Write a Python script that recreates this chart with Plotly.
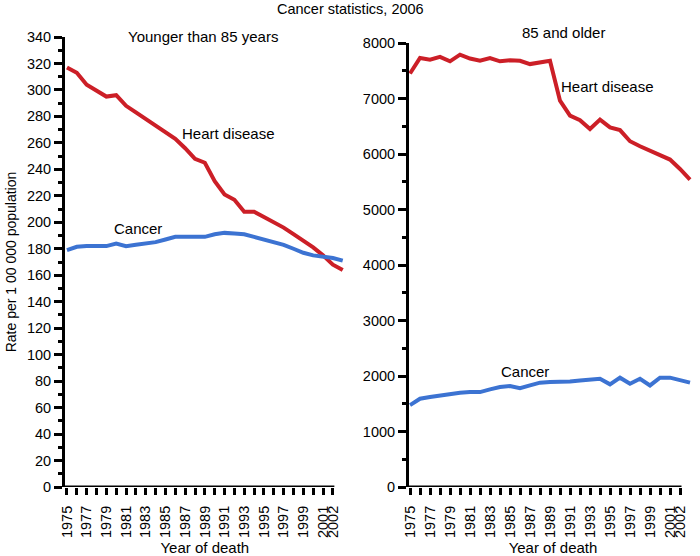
import plotly.graph_objects as go

years = list(range(1975, 2004))

heart_under85 = [317, 313, 304, 299.5, 295, 296, 288, 283, 278, 273, 268, 263, 256, 248, 245,
                 231, 221, 217, 208, 208, 204, 200, 196, 191, 186, 181, 175, 168, 164]
cancer_under85 = [179, 181.5, 182, 182, 182, 184, 182, 183, 184, 185, 187, 189, 189, 189, 189,
                  191, 192, 191.5, 191, 189, 187, 185, 183, 180, 177, 175, 174, 173, 171]

heart_85plus = [7450, 7730, 7700, 7750, 7670, 7790, 7720, 7680, 7730, 7670, 7690, 7680, 7620, 7650, 7680,
                6960, 6690, 6610, 6450, 6620, 6480, 6430, 6230, 6140, 6060, 5990, 5900, 5730, 5540]
cancer_85plus = [1475, 1590, 1620, 1650, 1680, 1700, 1710, 1710, 1760, 1800, 1820, 1780, 1830, 1880, 1890,
                 1890, 1900, 1920, 1930, 1950, 1850, 1970, 1860, 1950, 1830, 1970, 1970, 1930, 1880]

tick_years = list(range(1975, 2003))
tick_text = [str(y) if (y % 2 == 1 or y == 2002) else "" for y in tick_years]

RED = "#cc1f27"
BLUE = "#3c73d2"
FONT = "Liberation Sans, Arial, sans-serif"
TICK_FONT = dict(size=14.5, color="black", family=FONT)

W, H = 700, 556


def px(X):
    return X / W


def py(Y):
    return 1 - Y / H


fig = go.Figure()
fig.add_trace(go.Scatter(x=years, y=heart_under85, mode="lines", line=dict(color=RED, width=4),
                         xaxis="x", yaxis="y", showlegend=False))
fig.add_trace(go.Scatter(x=years, y=cancer_under85, mode="lines", line=dict(color=BLUE, width=4),
                         xaxis="x", yaxis="y", showlegend=False))
fig.add_trace(go.Scatter(x=years, y=heart_85plus, mode="lines", line=dict(color=RED, width=4),
                         xaxis="x2", yaxis="y2", showlegend=False))
fig.add_trace(go.Scatter(x=years, y=cancer_85plus, mode="lines", line=dict(color=BLUE, width=4),
                         xaxis="x2", yaxis="y2", showlegend=False))

xcommon = dict(tickmode="array", tickvals=tick_years, ticktext=tick_text, tickangle=-90,
               ticks="outside", ticklen=7, tickwidth=2.5, tickcolor="black", automargin=False,
               ticklabelstandoff=5,
               showline=False, showgrid=False, zeroline=False, tickfont=TICK_FONT,
               title=dict(text="Year of death", font=dict(size=15, color="black", family=FONT), standoff=7))

ycommon = dict(ticks="outside", ticklen=8, tickwidth=3, tickcolor="black", automargin=False,
               showline=True, linewidth=3, linecolor="black", showgrid=False, zeroline=False,
               tickfont=TICK_FONT, tickmode="linear", tick0=0)

fig.update_layout(
    width=W, height=H,
    margin=dict(l=0, r=0, t=0, b=0, autoexpand=False),
    paper_bgcolor="white", plot_bgcolor="white",
    font=dict(family=FONT, color="black"),
    xaxis=dict(domain=[px(65), px(344.7)], range=[1974.8, 2003.2], anchor="y", **xcommon),
    xaxis2=dict(domain=[px(409), px(697)], range=[1974.9, 2003.7], anchor="y2", **xcommon),
    yaxis=dict(domain=[py(487), py(37)], range=[0, 340], anchor="x", dtick=20,
               minor=dict(dtick=10, ticks="outside", ticklen=4, tickwidth=3, tickcolor="black", showgrid=False),
               title=dict(text="Rate per 1 00 000 population", font=dict(size=14, color="black", family=FONT),
                          standoff=7),
               **ycommon),
    yaxis2=dict(domain=[py(487), py(43)], range=[0, 8000], anchor="x2", dtick=1000,
                minor=dict(dtick=500, ticks="outside", ticklen=4, tickwidth=3, tickcolor="black", showgrid=False),
                **ycommon),
)

# x-axis baselines ending at the last labelled year
fig.add_shape(type="line", xref="x", yref="y", x0=1974.8, x1=2002.15, y0=0, y1=0,
              line=dict(color="black", width=3), layer="above")
fig.add_shape(type="line", xref="x2", yref="y2", x0=1974.9, x1=2002.15, y0=0, y1=0,
              line=dict(color="black", width=3), layer="above")

ann_font = dict(size=15, color="black", family=FONT)
fig.add_annotation(text="Cancer statistics, 2006", xref="paper", yref="paper", x=px(350), y=py(9),
                   showarrow=False, font=dict(size=14.5, color="black", family=FONT),
                   xanchor="center", yanchor="middle")
fig.add_annotation(text="Younger than 85 years", xref="paper", yref="paper", x=px(203), y=py(36),
                   showarrow=False, font=ann_font, xanchor="center", yanchor="middle")
fig.add_annotation(text="85 and older", xref="paper", yref="paper", x=px(563), y=py(33),
                   showarrow=False, font=ann_font, xanchor="center", yanchor="middle")
fig.add_annotation(text="Heart disease", xref="x", yref="y", x=1991.4, y=267,
                   showarrow=False, font=ann_font)
fig.add_annotation(text="Cancer", xref="x", yref="y", x=1982.2, y=195,
                   showarrow=False, font=ann_font)
fig.add_annotation(text="Heart disease", xref="x2", yref="y2", x=1994.7, y=7210,
                   showarrow=False, font=ann_font)
fig.add_annotation(text="Cancer", xref="x2", yref="y2", x=1986.5, y=2090,
                   showarrow=False, font=ann_font)

fig.write_html("out.html",
               config={"displayModeBar": False},
               post_script="document.body.style.margin='0';document.body.style.overflow='hidden';")
